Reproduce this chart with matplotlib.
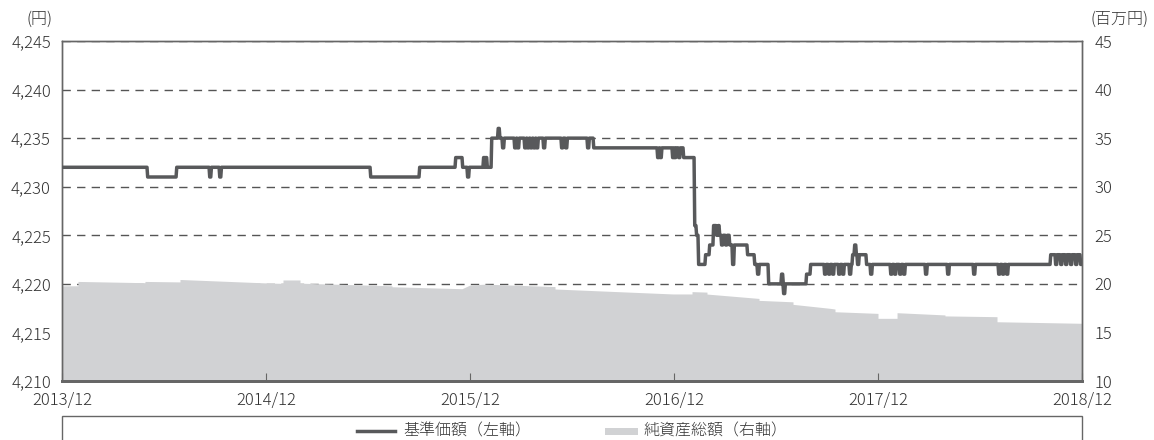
import numpy as np
import matplotlib
matplotlib.use("Agg")
import matplotlib.pyplot as plt
from matplotlib.lines import Line2D
from matplotlib.patches import Rectangle
from matplotlib.ticker import FuncFormatter

plt.rcParams['font.family'] = ['Noto Sans CJK JP', 'DejaVu Sans']
plt.rcParams['font.weight'] = 'light'

# ---- data (x in months since 2013/12) ----
x_tick_pos = [0, 12, 24, 36, 48, 60]
x_tick_labels = ["2013/12", "2014/12", "2015/12", "2016/12", "2017/12", "2018/12"]

# base price level changes (month, yen)
price_step_x = [0, 5.00, 6.71, 18.12, 21.00, 23.12, 23.53, 25.24, 31.24, 36.53,
                37.18, 37.29, 37.41, 37.82, 38.06, 38.29, 38.65, 39.24, 40.29,
                40.71, 41.53, 43.76, 44.0, 46.47, 47.29, 58.12, 59.88]
price_step_y = [4232, 4231, 4232, 4231, 4232, 4233, 4232, 4235, 4234, 4233,
                4226, 4225, 4222, 4223, 4224, 4226, 4225, 4224, 4223,
                4222, 4220, 4221, 4222, 4223, 4222, 4223, 4222]
# short-lived moves (month, yen)
blip_x = [8.65, 9.24, 23.82, 24.76, 24.88, 25.62, 25.88, 26.59, 26.76, 27.18,
          27.35, 27.53, 27.71, 27.88, 28.29, 29.35, 29.59, 30.88, 35.0, 35.15,
          35.88, 36.0, 36.24, 38.47, 38.76, 39.0, 39.41, 40.88, 42.29, 42.41,
          44.82, 45.06, 45.29, 45.65, 45.88, 46.29, 46.59, 46.76, 47.53, 48.71,
          48.94, 49.24, 49.47, 50.76, 52.06, 53.59, 55.06, 55.29, 55.53, 58.41,
          58.71, 59.0, 59.29, 59.59]
blip_y = [4231, 4231, 4231, 4233, 4233, 4236, 4234, 4234, 4234, 4234,
          4234, 4234, 4234, 4234, 4234, 4234, 4234, 4234, 4233, 4233,
          4233, 4233, 4233, 4225, 4224, 4224, 4222, 4221, 4221, 4219,
          4221, 4221, 4221, 4221, 4221, 4221, 4224, 4222, 4221, 4221,
          4221, 4221, 4221, 4221, 4221, 4221, 4221, 4221, 4221, 4222,
          4222, 4222, 4222, 4222]

# net assets outline (month, million yen)
nav_x = [0, 0.94, 0.94, 4.88, 4.88, 6.94, 6.94, 12.24, 13.0, 13.0, 14.0, 14.0,
         19.41, 19.41, 23.53, 24.0, 24.88, 29.0, 29.0, 35.94, 37.06, 37.06,
         37.94, 37.94, 41.0, 41.0, 43.0, 43.0, 45.18, 45.47, 45.47, 48.0, 48.0,
         49.12, 49.12, 51.94, 51.94, 55.0, 55.0, 60]
nav_y = [19.8, 19.8, 20.25, 20.12, 20.25, 20.2, 20.45, 20.08, 20.05, 20.4, 20.4, 20.07,
         19.8, 19.7, 19.5, 19.88, 19.97, 19.72, 19.47, 18.96, 18.96, 19.2,
         19.15, 18.95, 18.5, 18.3, 18.15, 17.89, 17.48, 17.41, 17.13, 16.96, 16.45,
         16.45, 17.03, 16.8, 16.7, 16.62, 16.1, 15.94]

# ---- build price series (short transitions) ----
blip_w = 0.1
sx = np.array(price_step_x); sy = np.array(price_step_y)
def base_at(t):
    i = np.searchsorted(sx, t, side='right') - 1
    return sy[i]
pts = [(x, y, 1) for x, y in zip(price_step_x, price_step_y)]
for bx, by in zip(blip_x, blip_y):
    pts.append((bx, by, 2))
    pts.append((bx + blip_w, base_at(bx + blip_w), 0))
pts.append((60, price_step_y[-1], 3))
pts.sort(key=lambda p: (p[0], p[2]))
px, py = [], []
eps = 0.04
for i, (x, y, _) in enumerate(pts):
    if i > 0:
        px.append(x); py.append(py[-1])
        px.append(x + eps); py.append(y)
    else:
        px.append(x); py.append(y)

# ---- figure ----
W, H = 1154, 440
fig = plt.figure(figsize=(W / 100, H / 100), dpi=100)
L, R, T, B = 62, 1082, 41, 381
ax = fig.add_axes([L / W, 1 - B / H, (R - L) / W, (B - T) / H])
ax2 = ax.twinx()

line_col = '#58595b'
fill_col = '#d1d2d4'
txt_col = '#333333'
spine_col = '#666666'

ax2.fill_between(nav_x, 0, nav_y, color=fill_col, lw=0, zorder=2)
ax2.set_ylim(10, 45)
ax2.set_yticks(range(10, 46, 5))
ax2.yaxis.grid(True, color='#555555', lw=1.0, ls=(0, (6, 4.5)))
ax2.set_axisbelow(True)

ax.plot(px, py, color=line_col, lw=2.5, zorder=3,
        solid_joinstyle='round', solid_capstyle='round')
ax.set_zorder(ax2.get_zorder() + 1)
ax.patch.set_visible(False)

ax.set_xlim(0, 60)
ax.set_ylim(4210, 4245)
ax.set_yticks(range(4210, 4246, 5))
ax.yaxis.set_major_formatter(FuncFormatter(lambda v, p: f"{int(v):,}"))
ax.set_xticks(x_tick_pos)
ax.set_xticklabels(x_tick_labels)

fs = 12
ax.tick_params(axis='x', direction='in', length=6, width=0.8, color=spine_col,
               labelsize=fs, labelcolor=txt_col, pad=8)
ax.tick_params(axis='y', length=0, labelsize=fs, labelcolor=txt_col, pad=8)
ax2.tick_params(axis='y', length=0, labelsize=fs, labelcolor=txt_col, pad=9)

for a in (ax, ax2):
    for s in a.spines.values():
        s.set_color(spine_col)
        s.set_linewidth(1.0)
ax.spines['bottom'].set_linewidth(2.0)
ax2.spines['bottom'].set_linewidth(2.0)

fig.text(53 / W, 1 - 19 / H, "(円)", ha='right', va='center', fontsize=11.5, color=txt_col)
fig.text(1090 / W, 1 - 19 / H, "(百万円)", ha='left', va='center', fontsize=11.5, color=txt_col)

# ---- legend box ----
fig.patches.append(Rectangle((L / W, -0.05), (R - L) / W, 1 - 416 / H + 0.05,
                             transform=fig.transFigure, fill=False,
                             edgecolor=spine_col, lw=1.0))
ly = 1 - 431 / H
fig.lines.append(Line2D([357 / W, 395 / W], [ly, ly], transform=fig.transFigure,
                        color=line_col, lw=2.5))
fig.text(403 / W, ly, "基準価額（左軸）", ha='left', va='center', fontsize=11.5, color=txt_col)
fig.patches.append(Rectangle((605 / W, ly - 3.5 / H), 33 / W, 7 / H,
                             transform=fig.transFigure, color=fill_col, lw=0))
fig.text(643 / W, ly, "純資産総額（右軸）", ha='left', va='center', fontsize=11.5, color=txt_col)

fig.savefig("out.png", dpi=100)
